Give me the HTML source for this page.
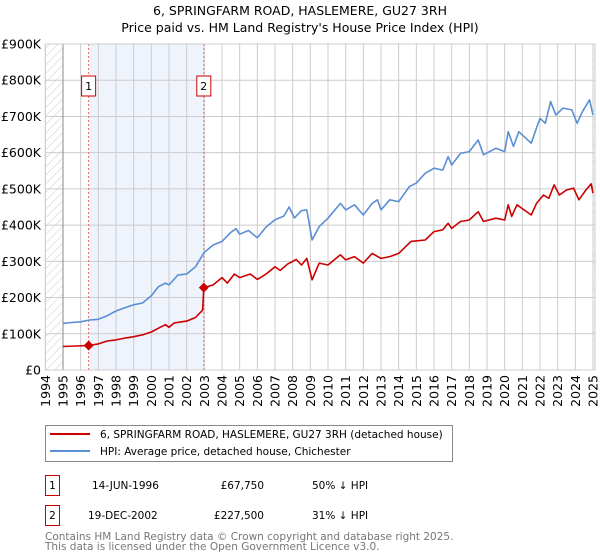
<!DOCTYPE html>
<html><head><meta charset="utf-8"><style>
body{margin:0;background:#fff;font-family:"Liberation Sans","DejaVu Sans",sans-serif;}
svg{display:block}
</style></head><body>
<svg id="c" width="600" height="560" viewBox="0 0 600 560" font-family="DejaVu Sans, Liberation Sans, sans-serif">
<defs><pattern id="hatch" width="6" height="6" patternUnits="userSpaceOnUse" patternTransform="rotate(45)"><line x1="0" y1="0" x2="0" y2="6" stroke="#ccc" stroke-width="1"/></pattern></defs>
<text x="300" y="15" text-anchor="middle" font-size="12.5">6, SPRINGFARM ROAD, HASLEMERE, GU27 3RH</text>
<text x="300" y="32" text-anchor="middle" font-size="12.5">Price paid vs. HM Land Registry's House Price Index (HPI)</text>
<g id="plot"></g>
<g>
<rect x="45.5" y="425.5" width="407" height="36" fill="#fff" stroke="#888"/>
<line x1="50" y1="434" x2="90" y2="434" stroke="#cc0000" stroke-width="2"/>
<text x="100" y="438" font-size="10.5">6, SPRINGFARM ROAD, HASLEMERE, GU27 3RH (detached house)</text>
<line x1="50" y1="451" x2="90" y2="451" stroke="#5b8fd4" stroke-width="2"/>
<text x="100" y="455" font-size="10.5">HPI: Average price, detached house, Chichester</text>
</g>
<g font-size="10.5">
<rect x="45.5" y="475.5" width="14" height="20" fill="#fff" stroke="#cc0000"/>
<text x="52.5" y="489" text-anchor="middle">1</text>
<text x="92" y="489">14-JUN-1996</text>
<text x="264" y="489" text-anchor="end">£67,750</text>
<text x="312" y="489">50% ↓ HPI</text>
<rect x="45.5" y="505.5" width="14" height="20" fill="#fff" stroke="#cc0000"/>
<text x="52.5" y="519" text-anchor="middle">2</text>
<text x="88" y="519">19-DEC-2002</text>
<text x="264" y="519" text-anchor="end">£227,500</text>
<text x="312" y="519">31% ↓ HPI</text>
</g>
<text x="45" y="540" font-size="10.5" fill="#777">Contains HM Land Registry data © Crown copyright and database right 2025.</text>
<text x="45" y="550" font-size="10.5" fill="#777">This data is licensed under the Open Government Licence v3.0.</text>
</svg>
<script>
const hpiYears=[1995,1995.5,1996,1996.5,1997,1997.5,1998,1998.5,1999,1999.5,2000,2000.4,2000.8,2001,2001.5,2002,2002.5,2003,2003.5,2004,2004.5,2004.8,2005,2005.5,2006,2006.5,2007,2007.5,2007.8,2008.1,2008.5,2008.8,2009.1,2009.5,2010,2010.7,2011,2011.5,2012,2012.5,2012.8,2013,2013.5,2014,2014.6,2015,2015.5,2016,2016.5,2016.8,2017,2017.5,2018,2018.5,2018.8,2019.5,2020,2020.2,2020.5,2020.8,2021.5,2021.8,2022,2022.3,2022.6,2022.9,2023.3,2023.8,2024.1,2024.4,2024.8,2025];
const hpiValues=[129,131,133,138,140,150,163,172,180,185,205,230,240,235,262,265,285,325,345,355,380,390,375,385,365,395,415,425,450,420,440,442,359,396,419,460,442,456,428,460,470,442,470,465,506,516,543,557,552,589,566,598,603,635,594,612,603,658,617,658,626,668,695,681,741,704,723,718,681,713,746,704];
const ppYears=[1995,1996.45,1997,1997.5,1998,1998.5,1999,1999.5,2000,2000.5,2000.8,2001,2001.3,2002,2002.5,2002.9,2002.97,2003.5,2004,2004.3,2004.7,2005,2005.6,2006,2006.5,2007,2007.3,2007.7,2008.2,2008.5,2008.8,2009.1,2009.5,2010,2010.7,2011,2011.5,2012,2012.5,2013,2013.5,2014,2014.7,2015.5,2016,2016.5,2016.8,2017,2017.5,2018,2018.5,2018.8,2019.5,2020,2020.2,2020.4,2020.7,2021.5,2021.8,2022.2,2022.5,2022.8,2023.1,2023.5,2023.9,2024.2,2024.6,2024.9,2025];
const ppValues=[65,67.75,72,80,83,88,92,97,105,118,125,118,130,135,145,165,227.5,235,255,240,265,255,265,250,265,285,275,292,305,290,308,249,295,290,318,304,313,295,322,308,313,322,355,359,382,387,405,391,410,414,437,410,419,414,456,424,456,428,460,483,474,511,483,497,502,470,497,514,488];
const saleYears=[1996.45,2002.97];
const saleValues=[67.75,227.5];
const saleLabels=["1","2"];
const yTicks=[0,100,200,300,400,500,600,700,800,900];
const yTickLabels=["£0","£100K","£200K","£300K","£400K","£500K","£600K","£700K","£800K","£900K"];
const xTicks=[1994,1995,1996,1997,1998,1999,2000,2001,2002,2003,2004,2005,2006,2007,2008,2009,2010,2011,2012,2013,2014,2015,2016,2017,2018,2019,2020,2021,2022,2023,2024,2025];

const NS="http://www.w3.org/2000/svg";
const L=45.3,R=595,T=44,B=370;
const X=y=>63+(y-1995)*17.667;
const Y=v=>B-v*(B-T)/900;
const g=document.getElementById('plot');
function mk(t,a,p){const e=document.createElementNS(NS,t);for(const k in a)e.setAttribute(k,a[k]);(p||g).appendChild(e);return e;}

let e;
e=mk('rect',{x:L,y:T,width:X(1995)-L,height:B-T,fill:'url(#hatch)'});


e=mk('rect',{x:X(2025),y:T,width:R-X(2025),height:B-T,fill:'url(#hatch)'});


e=mk('rect',{x:X(saleYears[0]),y:T,width:X(saleYears[1])-X(saleYears[0]),height:B-T,fill:'#eef3fc'});



yTicks.forEach((v,i)=>{
  e=mk('line',{x1:L,x2:R,y1:Y(v),y2:Y(v),stroke:'#ccc','stroke-width':1});
  
  
  e=mk('text',{x:41,y:Y(v)+4.5,'text-anchor':'end','font-size':12.5});
  e.textContent=yTickLabels[i];
  
  
});
xTicks.forEach(yr=>{
  e=mk('line',{x1:X(yr),x2:X(yr),y1:T,y2:B,stroke:'#ccc','stroke-width':1});
  
  
  e=mk('text',{x:0,y:0,'text-anchor':'end','font-size':12.5,transform:`translate(${X(yr)+4.5},375) rotate(-90)`});
  e.textContent=yr;
  
  
});
e=mk('line',{x1:X(1995),x2:X(1995),y1:T,y2:B,stroke:'#888','stroke-width':1});



saleYears.forEach((yr,i)=>{
  e=mk('line',{x1:X(yr),x2:X(yr),y1:T,y2:B,stroke:'#e66','stroke-width':1,'stroke-dasharray':'2,2'});
  
  
  e=mk('rect',{x:X(yr)-7,y:76,width:14,height:20,fill:'#fff',stroke:'#cc0000'});
  
  
  e=mk('text',{x:X(yr),y:90,'text-anchor':'middle','font-size':11});
  e.textContent=saleLabels[i];
  
  
});

const path=(xs,vs)=>xs.map((x,i)=>(i?'L':'M')+X(x).toFixed(1)+','+Y(vs[i]).toFixed(1)).join('');
e=mk('path',{d:path(hpiYears,hpiValues),fill:'none',stroke:'#5b8fd4','stroke-width':1.6,'stroke-linejoin':'round'});


e=mk('path',{d:path(ppYears,ppValues),fill:'none',stroke:'#cc0000','stroke-width':1.6,'stroke-linejoin':'round'});


saleYears.forEach((yr,i)=>{
  const cx=X(yr),cy=Y(saleValues[i]);
  e=mk('polygon',{points:`${cx},${cy-5} ${cx+5},${cy} ${cx},${cy+5} ${cx-5},${cy}`,fill:'#cc0000'});
  
  
});
e=mk('rect',{x:L,y:T,width:R-L,height:B-T,fill:'none',stroke:'#ccc'});


</script>
</body></html>
